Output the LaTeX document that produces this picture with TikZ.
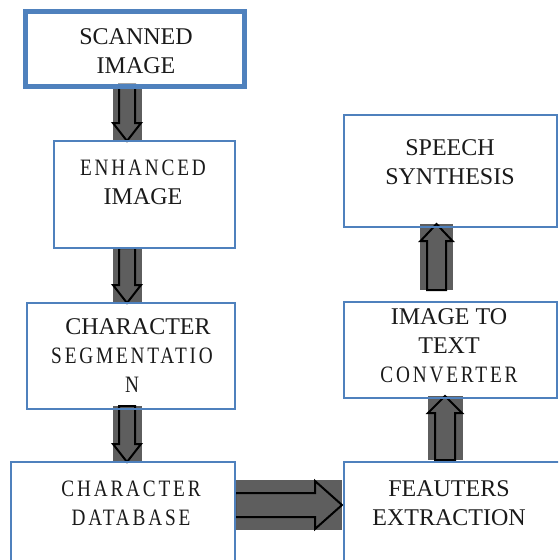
\documentclass[tikz,border=0pt]{standalone}
\usepackage{fontspec}
\setmainfont{Liberation Serif}
\newfontfamily\spacedfont[FakeStretch=0.82,LetterSpace=12]{Liberation Serif}
\usetikzlibrary{calc,backgrounds}
\definecolor{boxblue}{HTML}{4F81BD}
\definecolor{arrgray}{HTML}{5E5E5E}
\definecolor{txt}{HTML}{1A1A1A}
\tikzset{
  box/.style={draw=boxblue, line width=1.2pt, inner sep=0pt, outer sep=0pt, anchor=north west},
  lbl/.style={align=center, text=txt, font=\fontsize{24}{29}\selectfont, inner sep=0pt},
  arrline/.style={draw=black, fill=arrgray, line width=2pt, line join=miter},
}
\newcommand\spc{\spacedfont\fontsize{23.5}{29}\selectfont}
% vertical block arrow: #1 base, #2 tip, #3 rect half, #4 shaft half, #5 head half, #6 signed head length
\newcommand\blkv[6]{%
  \fill[arrgray] ($(#1)+(-#3,0)$) rectangle ($(#2)+(#3,0)$);
  \draw[arrline] ($(#1)+(-#4,0)$) -- ($(#2)+(-#4,#6)$) -- ($(#2)+(-#5,#6)$) -- (#2)
     -- ($(#2)+(#5,#6)$) -- ($(#2)+(#4,#6)$) -- ($(#1)+(#4,0)$) -- cycle;}
% horizontal block arrow
\newcommand\blkh[6]{%
  \fill[arrgray] ($(#1)+(0,-#3)$) rectangle ($(#2)+(0,#3)$);
  \draw[arrline] ($(#1)+(0,-#4)$) -- ($(#2)+(#6,-#4)$) -- ($(#2)+(#6,-#5)$) -- (#2)
     -- ($(#2)+(#6,#5)$) -- ($(#2)+(#6,#4)$) -- ($(#1)+(0,#4)$) -- cycle;}
\begin{document}
\begin{tikzpicture}[x=1pt,y=-1pt]
\useasboundingbox (0,0) rectangle (558,560);
\clip (0,0) rectangle (558,560);
% boxes
\node[box, line width=5pt, minimum width=219pt, minimum height=75pt] (b1) at (25.5,11.5) {};
\node[box, minimum width=181pt, minimum height=107pt] (b2) at (54,141) {};
\node[box, minimum width=208pt, minimum height=106pt] (b3) at (27,303) {};
\node[box, minimum width=224pt, minimum height=120pt] (b4) at (11,462) {};
\node[box, minimum width=213pt, minimum height=112pt] (b5) at (344,115) {};
\node[box, minimum width=213pt, minimum height=96pt] (b6) at (344,302) {};
\node[box, minimum width=240pt, minimum height=120pt] (b7) at (344,462) {};
% labels
\node[lbl] (t1) at (136,51) {SCANNED\\IMAGE};
\node[lbl] (t2) at (143,182.5) {{\spc ENHANCED}\\IMAGE};
\node[lbl] (t3) at (132,356) {\hspace*{12pt}CHARACTER\\{\spc SEGMENTATIO}\\{\spc N}};
\node[lbl] (t4) at (131,503) {{\spc CHARACTER}\\{\spc DATABASE}};
\node[lbl] (t5) at (450,162.5) {SPEECH\\SYNTHESIS};
\node[lbl] (t6) at (449,345.5) {IMAGE TO\\TEXT\\{\spc CONVERTER}};
\node[lbl] (t7) at (449,503.5) {FEAUTERS\\EXTRACTION};
% arrow guide coordinates
\coordinate (xl) at (127,0);
\coordinate (x5) at (445,0);
\coordinate (x6) at (436.5,0);
\coordinate (y4) at (0,505);
\coordinate (a1s) at ($(b1.south -| xl)+(0,-2)$);
\coordinate (a1e) at (b2.north -| xl);
\coordinate (a2s) at (b2.south -| xl);
\coordinate (a2e) at (b3.north -| xl);
\coordinate (a3s) at ($(b3.south -| xl)+(0,-3)$);
\coordinate (a3e) at (b4.north -| xl);
\coordinate (a4s) at (b4.east |- y4);
\coordinate (a4e) at ($(b7.west |- y4)+(-2,0)$);
\coordinate (a5s) at ($(b7.north -| x5)+(0,-2)$);
\coordinate (a5e) at ($(b6.south -| x5)+(0,-2)$);
\coordinate (a6s) at ($(b6.north -| x6)+(0,-12)$);
\coordinate (a6e) at ($(b5.south -| x6)+(0,-3)$);
\begin{pgfonlayer}{background}
\blkv{a1s}{a1e}{14.5}{8}{14}{-18}
\blkv{a2s}{a2e}{14.5}{8}{14}{-18}
\blkv{a3s}{a3e}{14.5}{8}{14}{-18}
\blkh{a4s}{a4e}{25}{12}{24}{-27}
\blkv{a5s}{a5e}{17.5}{10}{17}{17}
\blkv{a6s}{a6e}{16.5}{9.5}{16}{17}
\end{pgfonlayer}
\end{tikzpicture}
\end{document}
